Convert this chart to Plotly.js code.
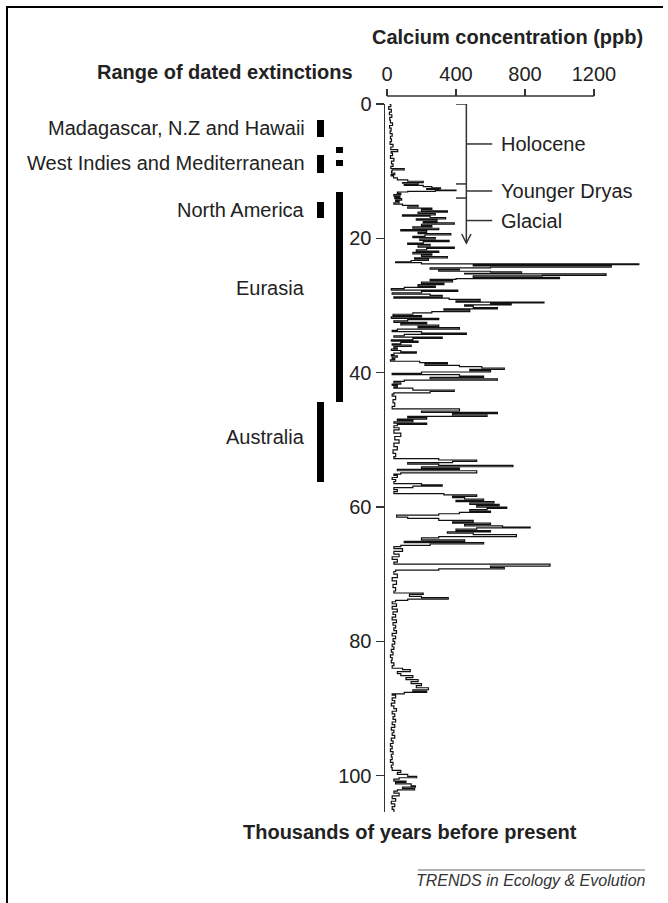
<!DOCTYPE html>
<html><head><meta charset="utf-8">
<script src="https://cdn.plot.ly/plotly-3.0.1.min.js"></script>
<style>html,body{margin:0;padding:0;background:#fff;} #chart{width:668px;height:903px;}</style>
</head><body><div id="chart"></div>
<script>
// Calcium record: age (thousands of years BP) and calcium concentration (ppb)
const ageKyr = [
 0.0,0.4,0.8,1.2,1.6,2.0,2.4,2.8,3.2,3.6,
 4.0,4.4,4.8,5.2,5.6,6.0,6.4,6.8,7.1,7.3,
 7.7,8.1,8.5,8.9,9.3,9.6,9.8,10.0,10.3,10.5,
 10.7,11.0,11.3,11.5,11.7,11.8,12.0,12.1,12.3,12.5,
 12.6,12.7,12.8,12.9,13.0,13.1,13.3,13.5,13.7,13.9,
 14.1,14.3,14.5,14.7,14.9,15.1,15.3,15.5,15.7,15.9,
 16.1,16.3,16.5,16.7,16.9,17.1,17.3,17.5,17.7,17.9,
 18.1,18.3,18.5,18.7,18.9,19.1,19.3,19.5,19.7,19.9,
 20.1,20.3,20.5,20.7,20.9,21.1,21.3,21.5,21.7,21.9,
 22.1,22.3,22.5,22.7,22.9,23.1,23.3,23.5,23.6,23.8,
 23.9,24.0,24.1,24.3,24.4,24.6,24.7,24.9,25.0,25.2,
 25.3,25.5,25.6,25.8,26.0,26.1,26.3,26.5,26.7,26.9,
 27.1,27.3,27.5,27.7,27.9,28.1,28.3,28.5,28.7,28.9,
 29.1,29.3,29.5,29.6,29.8,29.9,30.1,30.3,30.5,30.7,
 30.9,31.1,31.3,31.5,31.7,31.9,32.1,32.3,32.5,32.7,
 32.9,33.1,33.3,33.5,33.7,33.9,34.1,34.3,34.5,34.7,
 34.9,35.1,35.3,35.5,35.7,35.9,36.1,36.3,36.5,36.7,
 36.9,37.1,37.3,37.5,37.7,37.9,38.1,38.3,38.5,38.7,
 38.9,39.1,39.3,39.5,39.7,39.9,40.1,40.3,40.5,40.7,
 40.9,41.1,41.3,41.5,41.7,41.9,42.1,42.3,42.6,42.8,
 43.0,43.2,43.5,44.0,44.5,45.0,45.4,45.7,45.9,46.1,
 46.3,46.5,46.7,46.9,47.1,47.3,47.5,47.7,47.9,48.2,
 48.5,49.0,49.5,50.0,50.5,51.0,51.5,52.0,52.5,52.8,
 53.0,53.2,53.4,53.6,53.8,54.0,54.2,54.4,54.6,54.9,
 55.1,55.3,55.6,55.9,56.2,56.5,56.7,56.9,57.1,57.4,
 57.7,58.0,58.2,58.4,58.6,58.8,59.0,59.2,59.4,59.6,
 59.8,60.0,60.2,60.4,60.6,60.8,61.0,61.2,61.5,61.7,
 62.0,62.2,62.4,62.6,62.8,63.0,63.1,63.3,63.5,63.7,
 63.9,64.1,64.4,64.6,64.9,65.1,65.3,65.5,65.7,65.9,
 66.2,66.6,67.0,67.4,67.8,68.2,68.5,68.8,69.0,69.2,
 69.4,69.6,70.0,70.5,71.0,71.5,72.0,72.5,72.8,73.0,
 73.3,73.5,73.7,73.9,74.1,74.4,74.8,75.2,75.6,76.0,
 76.4,76.8,77.2,77.6,78.0,78.4,78.8,79.2,79.6,80.0,
 80.4,80.8,81.2,81.6,82.0,82.4,82.8,83.2,83.6,84.0,
 84.2,84.5,84.8,85.1,85.4,85.7,86.0,86.3,86.6,86.9,
 87.2,87.4,87.6,87.8,88.0,88.4,88.8,89.2,89.6,90.0,
 90.4,90.8,91.2,91.6,92.0,92.4,92.8,93.2,93.6,94.0,
 94.4,94.8,95.2,95.6,96.0,96.4,96.8,97.2,97.6,98.0,
 98.4,98.8,99.2,99.5,99.8,100.1,100.3,100.5,100.8,101.0,
 101.2,101.5,101.7,101.9,102.1,102.3,102.6,103.0,103.4,103.8,
 104.2,104.6,105.0,105.4
];
const calciumPpb = [
 12,22,10,25,14,28,16,20,32,15,
 24,18,30,20,26,18,35,22,62,24,
 32,20,40,26,35,22,100,30,26,45,
 24,38,60,120,210,90,180,100,210,260,
 310,230,300,400,280,120,60,80,40,75,
 45,85,50,70,40,90,180,120,260,200,
 350,180,280,90,250,340,170,290,210,390,
 200,260,150,300,80,230,180,370,220,150,
 280,190,360,210,120,250,180,390,230,170,
 300,150,260,200,350,160,240,140,50,200,
 1460,1000,500,1300,600,250,420,300,600,780,
 450,1270,900,500,1000,400,250,380,200,330,
 180,280,100,25,410,200,30,250,320,40,
 360,540,400,910,600,720,450,500,640,330,
 480,260,150,35,200,25,300,120,40,230,
 80,300,180,420,60,30,200,460,100,40,
 320,150,25,180,80,30,140,40,60,25,
 80,170,40,25,60,30,45,20,190,350,
 220,420,550,680,480,600,200,30,420,560,
 250,640,100,40,80,30,60,40,150,390,
 250,40,30,50,35,45,30,420,200,640,
 380,580,120,230,60,150,40,230,60,40,
 70,40,80,45,70,40,60,35,50,40,
 300,520,380,120,300,730,200,420,60,520,
 80,40,60,30,50,40,200,320,150,40,
 60,40,330,520,380,450,560,400,620,480,
 650,520,694,580,480,600,420,300,56,120,
 300,500,380,600,450,670,830,520,400,600,
 350,500,750,300,200,450,100,560,250,80,
 40,90,40,70,30,60,40,945,600,680,
 300,50,40,60,30,55,35,50,40,210,
 130,200,355,120,50,30,55,30,60,35,
 50,30,55,35,50,40,55,30,50,35,
 45,30,40,25,35,20,30,25,40,30,
 90,135,60,80,150,110,180,140,200,170,
 240,150,230,100,30,50,30,45,25,40,
 55,30,45,35,50,30,45,25,40,30,
 45,25,35,20,30,20,35,25,30,20,
 35,25,30,80,60,120,172,70,40,110,
 50,140,165,90,160,60,40,70,30,50,
 25,45,30,40
];
const calciumTicks = [0, 400, 800, 1200];
const ageTicks = [0, 20, 40, 60, 80, 100];

// Range of dated extinctions (thousands of years BP)
const rangeRegion = ["Madagascar, N.Z and Hawaii", "West Indies and Mediterranean", "West Indies and Mediterranean", "West Indies and Mediterranean", "North America", "Eurasia", "Australia"];
const rangeStartKyr = [2.4, 7.6, 6.4, 8.3, 14.6, 13.1, 44.4];
const rangeEndKyr   = [4.9, 10.3, 7.3, 9.2, 16.9, 44.4, 56.3];
const rangeColumn   = [0, 0, 1, 1, 0, 1, 0];

// Climate periods
const epochNames = ["Holocene", "Younger Dryas", "Glacial"];
const epochBoundsKyr = [0, 11.9, 14.0, 20.7];

const FONT = 'Liberation Sans, Arial, Helvetica, sans-serif';
const INK = '#222';
const W = 668, PT = 96, PB = 812;
const px = v => v / W;
const py = v => (PB - v) / (PB - PT);

const colX = [320.5, 339.5];

const traces = [
  {
    type: 'scatter', mode: 'lines', x: calciumPpb, y: ageKyr,
    xaxis: 'x', yaxis: 'y',
    line: {color: '#111', width: 1.2, shape: 'hv'}, hoverinfo: 'skip'
  },
  {
    type: 'bar', xaxis: 'x2', yaxis: 'y',
    x: rangeColumn.map(c => colX[c]),
    base: rangeStartKyr,
    y: rangeEndKyr.map((e, i) => e - rangeStartKyr[i]),
    width: 7, marker: {color: '#000', line: {width: 0}},
    text: rangeRegion, hoverinfo: 'text', textposition: 'none'
  }
];

const shapes = [];
const line = (o) => Object.assign({type: 'line', line: {color: '#333', width: 1.5}}, o);
// top axis line (0 - 1200 only)
shapes.push(line({xref: 'x', yref: 'paper', x0: 0, x1: 1200, y0: 1, y1: 1}));
// epoch bracket
const bx = 460, bl = 400, lx = 610;
shapes.push(line({xref: 'x', yref: 'y', x0: bx, x1: bx, y0: epochBoundsKyr[0], y1: epochBoundsKyr[3]}));
for (let i = 0; i < 3; i++) {
  shapes.push(line({xref: 'x', yref: 'y', x0: bl, x1: bx, y0: epochBoundsKyr[i], y1: epochBoundsKyr[i]}));
}
const mids = epochNames.map((n, i) => (epochBoundsKyr[i] + epochBoundsKyr[i + 1]) / 2);
mids.forEach(m => shapes.push(line({xref: 'x', yref: 'y', x0: bx, x1: lx, y0: m, y1: m})));
const tip = epochBoundsKyr[3];
shapes.push({type: 'path', xref: 'x', yref: 'y', path: `M ${bx - 27} ${tip - 1.35} L ${bx} ${tip} L ${bx + 27} ${tip - 1.35}`, line: {color: '#333', width: 1.5}});
// frame
shapes.push({type: 'line', xref: 'paper', yref: 'paper', x0: px(7), x1: px(7), y0: py(7), y1: py(905), line: {color: '#000', width: 2}});
shapes.push({type: 'line', xref: 'paper', yref: 'paper', x0: px(6), x1: px(663), y0: py(7), y1: py(7), line: {color: '#000', width: 2}});
// publisher rule
shapes.push({type: 'line', xref: 'paper', yref: 'paper', x0: px(418), x1: px(645), y0: py(870), y1: py(870), line: {color: '#666', width: 1}});

const ann = [];
const txt = (o) => Object.assign({showarrow: false, font: {family: FONT, size: 20, color: INK}}, o);
ann.push(txt({xref: 'paper', yref: 'paper', x: px(507), y: py(37), xanchor: 'center', yanchor: 'middle', text: '<b>Calcium concentration (ppb)</b>'}));
ann.push(txt({xref: 'paper', yref: 'paper', x: px(225), y: py(72), xanchor: 'center', yanchor: 'middle', text: '<b>Range of dated extinctions</b>'}));
ann.push(txt({xref: 'paper', yref: 'paper', x: px(410), y: py(832), xanchor: 'center', yanchor: 'middle', text: '<b>Thousands of years before present</b>'}));
ann.push(txt({xref: 'paper', yref: 'paper', x: px(531), y: py(880), xanchor: 'center', yanchor: 'middle', text: '<i>TRENDS in Ecology &amp; Evolution</i>', font: {family: FONT, size: 16, color: '#333'}}));
// region labels
const labelAt = {"Madagascar, N.Z and Hawaii": 3.6, "West Indies and Mediterranean": 8.8, "North America": 15.8, "Eurasia": 27.4, "Australia": 49.6};
Object.keys(labelAt).forEach(name => {
  ann.push(txt({xref: 'x2', yref: 'y', x: 307, y: labelAt[name], xanchor: 'right', yanchor: 'middle', text: name}));
});
// epoch labels
epochNames.forEach((n, i) => ann.push(txt({xref: 'x', yref: 'y', x: 650, y: mids[i], xanchor: 'left', yanchor: 'middle', text: n})));

const layout = {
  width: 668, height: 903,
  margin: {l: 0, r: 0, t: PT, b: 903 - PB, pad: 0},
  paper_bgcolor: '#fff', plot_bgcolor: 'rgba(0,0,0,0)',
  showlegend: false, bargap: 0,
  font: {family: FONT, size: 20, color: INK},
  xaxis: {
    domain: [385 / W, 662 / W], range: [-11.6, 1594.2],
    anchor: 'free', position: 1, side: 'top',
    tickvals: calciumTicks, ticktext: calciumTicks.map(String),
    ticks: 'outside', ticklen: 7, tickwidth: 1.5, tickcolor: '#333',
    showline: false, showgrid: false, zeroline: false,
    tickfont: {family: FONT, size: 20, color: INK}
  },
  yaxis: {
    domain: [0, (PB - 104) / (PB - PT)], range: [105.4, 0],
    anchor: 'x', tickvals: ageTicks, ticktext: ageTicks.map(String),
    ticks: 'outside', ticklen: 8, tickwidth: 1.5, tickcolor: '#333',
    showline: true, linewidth: 1.5, linecolor: '#333',
    showgrid: false, zeroline: false,
    tickfont: {family: FONT, size: 20, color: INK}
  },
  xaxis2: {domain: [0, 380 / W], range: [0, 380], anchor: 'y', visible: false, fixedrange: true},
  shapes: shapes, annotations: ann
};

Plotly.newPlot('chart', traces, layout, {staticPlot: true, displayModeBar: false});
</script>
</body></html>
